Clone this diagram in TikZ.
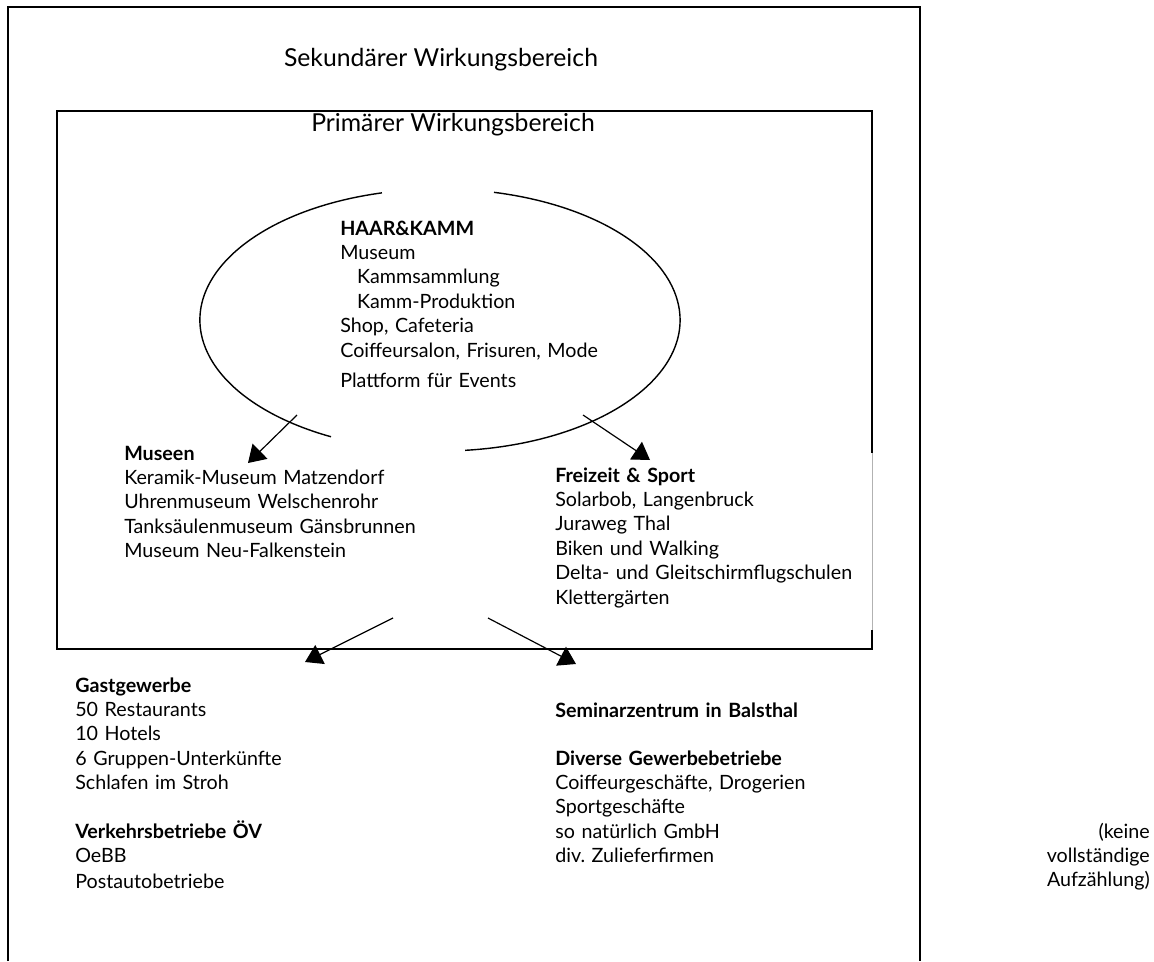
\documentclass[tikz,border=0pt]{standalone}
\usepackage{fontspec}
\setmainfont{Lato}
\usetikzlibrary{positioning, arrows.meta}
\tikzset{
	heading/.style={inner sep=0pt, font=\fontsize{17.6}{21}\selectfont},
	block/.style={inner sep=0pt, text width=9cm, align=left, anchor=base west, font=\fontsize{14}{17.4}\selectfont},
	frame/.style={line width=1.2pt},
	flow/.style={line width=0.85pt, -{Triangle[width=15pt, length=12pt]}},
}
\frenchspacing

\begin{document}
\begin{tikzpicture}[x=0.025cm, y=-0.025cm]
		\useasboundingbox (0,0) rectangle (1154,961);
		
		% outer and inner area
		\draw[frame] (8,961) -- (8,7) -- (920,7) -- (920,961);
		\draw[frame] (872,453) -- (872,111) -- (57,111) -- (57,649) -- (872,649) -- (872,630);
		\draw[very thin, gray!60] (872,453) -- (872,630);
		
		\node (sek) [heading] at (441,60) {Sekundärer Wirkungsbereich};
		\node (prim) [heading] at (453,125) {Primärer Wirkungsbereich};
		
		% ellipse, open at top and bottom
		\coordinate (hub) at (440,320);
		\draw[line width=1pt] ([shift={(104:6cm and 3.275cm)}]hub) arc[start angle=104, end angle=243, x radius=6cm, y radius=3.275cm];
		\draw[line width=1pt] ([shift={(276:6cm and 3.275cm)}]hub) arc[start angle=276, end angle=437, x radius=6cm, y radius=3.275cm];
		
		\node (haarkamm) [block] at (340,235) {\textbf{HAAR\&KAMM}\\Museum\\\hspace*{0.42cm}Kammsammlung\\\hspace*{0.42cm}Kamm-Produktion\\Shop, Cafeteria\\Coiffeursalon, Frisuren, Mode\\[0.15cm]Plattform für Events};
		
		\node (museen) [block] at (124,460) {\textbf{Museen}\\Keramik-Museum Matzendorf\\Uhrenmuseum Welschenrohr\\Tanksäulenmuseum Gänsbrunnen\\Museum Neu-Falkenstein};
		
		\node (freizeit) [block] at (555,482) {\textbf{Freizeit \& Sport}\\Solarbob, Langenbruck\\Juraweg Thal\\Biken und Walking\\Delta- und Gleitschirmflugschulen\\Klettergärten};
		
		\node (gast) [block] at (75,692) {\textbf{Gastgewerbe}\\50 Restaurants\\10 Hotels\\6 Gruppen-Unterkünfte\\Schlafen im Stroh};
		
		\node (verkehr) [block] at (75,838) {\textbf{Verkehrsbetriebe ÖV}\\OeBB\\[0.05cm]Postautobetriebe};
		
		\node (seminar) [block] at (555,717) {\textbf{Seminarzentrum in Balsthal}};
		
		\node (gewerbe) [block] at (555,765) {\textbf{Diverse Gewerbebetriebe}\\Coiffeurgeschäfte, Drogerien\\Sportgeschäfte\\so natürlich GmbH\\div. Zulieferfirmen};
		
		\node (note) [block, text width=4cm, align=right, anchor=base east] at (1150,838) {(keine\\vollständige\\Aufzählung)};
		
		% arrow ends
		\coordinate (hubsw) at (297,415);
		\coordinate (hubse) at (583,415);
		\coordinate (museenin) at (248,463);
		\coordinate (freizeitin) at (650,460);
		\coordinate (primsw) at (393,618);
		\coordinate (primse) at (488,618);
		\coordinate (gastin) at (305,662);
		\coordinate (gewerbein) at (576,664);
		
		\begin{scope}[flow]
			\draw (hubsw) -- (museenin);
			\draw (hubse) -- (freizeitin);
			\draw (primsw) -- (gastin);
			\draw (primse) -- (gewerbein);
		\end{scope}
	\end{tikzpicture}
\end{document}
